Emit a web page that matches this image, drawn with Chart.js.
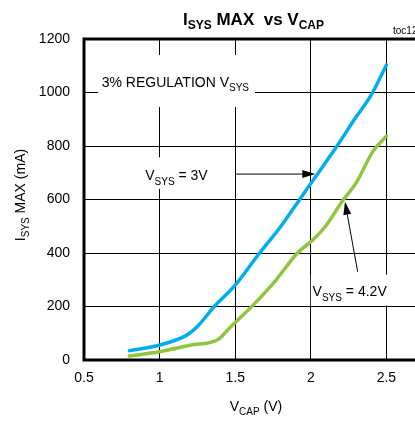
<!DOCTYPE html>
<html><head><meta charset="utf-8">
<script src="https://cdn.jsdelivr.net/npm/chart.js@4/dist/chart.umd.min.js"></script>
<style>
html,body{margin:0;padding:0;background:#fff;overflow:hidden;width:415px;height:422px}
#wrap{position:absolute;left:0;top:0;width:480px;height:422px}
</style>
</head><body><div id="wrap"><canvas id="c" width="480" height="422"></canvas></div>
<script>
// ---- data ----
const vcap3V  = [0.80, 1.00, 1.18, 1.25, 1.36, 1.50, 1.66, 1.80, 1.93, 2.02, 2.17, 2.30, 2.40, 2.50];
const isys3V  = [35,   56,   93,   125,  199,  280,  399,  498,  603,  676,  797,  909,  991,  1103];
const vcap42V = [0.80, 1.00, 1.20, 1.39, 1.46, 1.62, 1.77, 1.91, 2.02, 2.10, 2.21, 2.30, 2.41, 2.50];
const isys42V = [15,   31,   55,   78,   118,  206,  299,  399,  452,  502,  595,  662,  779,  837];
const xTicks = [0.5, 1, 1.5, 2, 2.5, 3];
const yTicks = [0, 200, 400, 600, 800, 1000, 1200];
const seriesNames = ['VSYS = 3V', 'VSYS = 4.2V'];

const FONT = '"Liberation Sans", Arial, sans-serif';
const toPts = (xs, ys) => xs.map((x, i) => ({x, y: ys[i]}));

function drawRich(ctx, parts, x, y, o) {
  const size = o.size || 14, sub = o.sub || 10, weight = o.weight || 'normal', drop = o.drop || 4;
  let w = 0;
  parts.forEach(p => { ctx.font = `${weight} ${p[1] ? sub : size}px ${FONT}`; w += ctx.measureText(p[0]).width; });
  let cx = o.align === 'center' ? x - w / 2 : (o.align === 'right' ? x - w : x);
  ctx.fillStyle = o.color || '#000';
  ctx.textAlign = 'left'; ctx.textBaseline = 'alphabetic';
  parts.forEach(p => {
    ctx.font = `${weight} ${p[1] ? sub : size}px ${FONT}`;
    ctx.fillText(p[0], cx, y + (p[1] ? drop : 0));
    cx += ctx.measureText(p[0]).width;
  });
  return w;
}
function arrow(ctx, x0, y0, x1, y1) {
  const ang = Math.atan2(y1 - y0, x1 - x0), L = 13, H = 4;
  ctx.strokeStyle = '#000'; ctx.lineWidth = 1;
  ctx.beginPath(); ctx.moveTo(x0, y0);
  ctx.lineTo(x1 - L * Math.cos(ang), y1 - L * Math.sin(ang)); ctx.stroke();
  ctx.fillStyle = '#000'; ctx.beginPath();
  ctx.moveTo(x1, y1);
  ctx.lineTo(x1 - L * Math.cos(ang) + H * Math.sin(ang), y1 - L * Math.sin(ang) - H * Math.cos(ang));
  ctx.lineTo(x1 - L * Math.cos(ang) - H * Math.sin(ang), y1 - L * Math.sin(ang) + H * Math.cos(ang));
  ctx.closePath(); ctx.fill();
}

const deco = {
  id: 'deco',
  beforeDatasetsDraw(chart) {
    const {ctx, chartArea: a, scales: {x, y}} = chart;
    ctx.save();
    ctx.fillStyle = '#fff';
    // white boxes behind annotation labels
    const boxes = [[0.593, 1140, 1.631, 946], [0.853, 758, 1.36, 640], [2.0, 319, 2.53, 204]];
    boxes.forEach(b => {
      const x0 = x.getPixelForValue(b[0]), y0 = y.getPixelForValue(b[1]);
      const x1 = x.getPixelForValue(b[2]), y1 = y.getPixelForValue(b[3]);
      ctx.fillRect(x0, y0, x1 - x0, y1 - y0);
    });
    ctx.strokeStyle = '#000'; ctx.lineWidth = 3;
    ctx.strokeRect(a.left, a.top, a.right - a.left, a.bottom - a.top);
    ctx.restore();
  },
  afterDatasetsDraw(chart) {
    const {ctx, scales: {x, y}} = chart;
    ctx.save();
    // title
    drawRich(ctx, [['I', 0], ['SYS', 1], [' MAX  vs V', 0], ['CAP', 1]], 183, 25, {size: 17, sub: 12, weight: 'bold', drop: 4});
    ctx.font = `10px ${FONT}`; ctx.fillStyle = '#000'; ctx.textAlign = 'left';
    ctx.fillText('toc12', 393, 34);
    // x title
    drawRich(ctx, [['V', 0], ['CAP', 1], [' (V)', 0]], 256, 411, {align: 'center', size: 14, sub: 10, drop: 4});
    // y title rotated
    ctx.save(); ctx.translate(25, 195); ctx.rotate(-Math.PI / 2);
    drawRich(ctx, [['I', 0], ['SYS', 1], [' MAX (mA)', 0]], 0, 0, {align: 'center', size: 14, sub: 10, drop: 4});
    ctx.restore();
    // annotations
    drawRich(ctx, [['3% REGULATION V', 0], ['SYS', 1]], x.getPixelForValue(0.617), y.getPixelForValue(1022), {size: 14, sub: 10, drop: 4});
    drawRich(ctx, [['V', 0], ['SYS', 1], [' = 3V', 0]], x.getPixelForValue(0.905), y.getPixelForValue(673), {size: 14, sub: 10, drop: 5});
    drawRich(ctx, [['V', 0], ['SYS', 1], [' = 4.2V', 0]], x.getPixelForValue(2.012), y.getPixelForValue(239), {size: 14, sub: 10, drop: 5});
    arrow(ctx, x.getPixelForValue(1.5), y.getPixelForValue(695), x.getPixelForValue(2.03), y.getPixelForValue(695));
    arrow(ctx, x.getPixelForValue(2.31), y.getPixelForValue(330), x.getPixelForValue(2.226), y.getPixelForValue(592));
    ctx.restore();
  }
};

new Chart(document.getElementById('c'), {
  type: 'scatter',
  data: {
    datasets: [
      {label: seriesNames[0], data: toPts(vcap3V, isys3V), borderColor: '#00AEEF', backgroundColor: '#00AEEF'},
      {label: seriesNames[1], data: toPts(vcap42V, isys42V), borderColor: '#8DC63F', backgroundColor: '#8DC63F'}
    ].map(d => Object.assign(d, {showLine: true, pointRadius: 0, borderWidth: 3.5, cubicInterpolationMode: 'monotone', borderCapStyle: 'round', borderJoinStyle: 'round'}))
  },
  options: {
    responsive: false, animation: false, devicePixelRatio: 1,
    layout: {padding: {left: 0, top: 39, right: 18, bottom: 0}},
    plugins: {legend: {display: false}, tooltip: {enabled: false}, title: {display: false}},
    scales: {
      x: {
        type: 'linear', min: 0.5, max: 3,
        afterBuildTicks: s => { s.ticks = xTicks.map(v => ({value: v})); },
        afterFit: s => { s.height = 62; },
        grid: {color: '#000', lineWidth: 1, drawTicks: false},
        border: {display: false},
        ticks: {padding: 10, color: '#000', font: {family: FONT, size: 14}, callback: v => String(v), maxRotation: 0, autoSkip: false}
      },
      y: {
        min: 0, max: 1200,
        afterBuildTicks: s => { s.ticks = yTicks.map(v => ({value: v})); },
        afterFit: s => { s.width = 84; },
        grid: {color: '#000', lineWidth: 1, drawTicks: false},
        border: {display: false},
        ticks: {padding: 14, color: '#000', font: {family: FONT, size: 14}, callback: v => String(v)}
      }
    }
  },
  plugins: [deco]
});
</script>
</body></html>
